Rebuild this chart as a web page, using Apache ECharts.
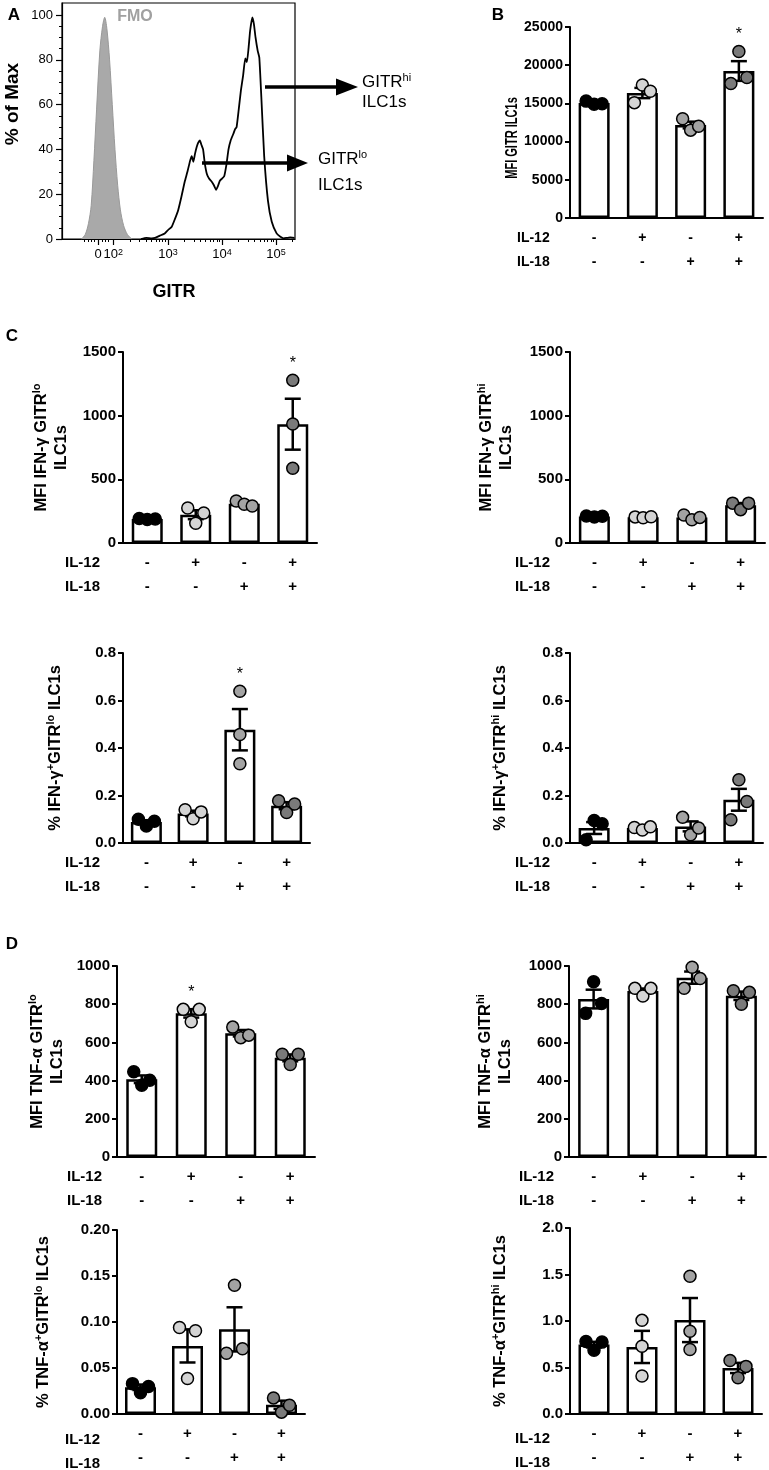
<!DOCTYPE html>
<html><head><meta charset="utf-8">
<script src="https://cdn.jsdelivr.net/npm/echarts@6/dist/echarts.min.js"></script>
<style>html,body{margin:0;padding:0;background:#fff}#c{width:769px;height:1470px}</style>
</head><body><div id="c"></div>
<script>
// ---------------- DATA ----------------
// Panel A: histogram (x = position on biexponential GITR axis, in decades)
const fmoChannel = [1.40,1.47,1.53,1.58,1.63,1.68,1.74,1.79,1.83,1.87,1.92,1.97,2.02,2.07,2.12,2.18,2.25,2.33];
const fmoPct     = [0,   2,   7,   15,  35,  58,  84,  95,  99,  94,  80,  60,  40,  24,  13,  6,   2,   0];
const gitrChannel = [2.50,2.60,2.70,2.76,2.85,2.94,3.00,3.07,3.13,3.19,3.25,3.31,3.36,3.41,3.44,3.47,3.50,3.53,3.56,3.59,3.62,3.65,3.68,3.72,3.76,3.81,3.85,3.89,3.93,3.96,4.00,4.04,4.08,4.12,4.16,4.21,4.24,4.27,4.31,4.35,4.39,4.43,4.46,4.49,4.52,4.56,4.59,4.62,4.66,4.69,4.73,4.78,4.85,4.92,5.01,5.08,5.14,5.20,5.26,5.34];
const gitrPct     = [0,0.5,0.3,0.5,1.5,2.5,4,5.5,9,13,19,25.6,30,35,37,34.5,38,41,43,44,42,40,34,29,27,25.6,24,22,24,26,27,28,33,40,44,47,49,50,58,66.5,73,80.7,79,85,93,99,96,90,84,81,62,37,17,7.7,2.5,1,0.3,0.5,0.7,0.5];
const gitrTickPos    = [1.71, 1.99, 3, 4, 5];
const gitrTickLabels = ['0', '10{s|2}', '10{s|3}', '10{s|4}', '10{s|5}'];
const pctMaxTicks    = ['0','20','40','60','80','100'];

// Bar panels
const conditions = ['none', 'IL-12', 'IL-18', 'IL-12 + IL-18'];
const il12 = ['-', '+', '-', '+'];
const il18 = ['-', '-', '+', '+'];

const mfiGitrMean = [15050, 16360, 12170, 19240];
const mfiGitrSem  = [130, 670, 440, 1290];
const mfiGitrPts  = [[15300,14900,14950],[15100,17400,16600],[13000,11500,12000],[17600,21800,18400]];
const mfiGitrSig  = ['', '', '', '*'];
const mfiGitrTicks = ['0','5000','10000','15000','20000','25000'];

const mfiIfngLoMean = [188, 222, 308, 933];
const mfiIfngLoSem  = [3, 35, 12, 200];
const mfiIfngLoPts  = [[192,185,188],[275,155,235],[330,305,290],[1278,934,587]];
const mfiIfngLoSig  = ['', '', '', '*'];
const mfiIfngTicks  = ['0','500','1000','1500'];

const mfiIfngHiMean = [209, 203, 201, 297];
const mfiIfngHiSem  = [2, 3, 11, 17];
const mfiIfngHiPts  = [[212,205,210],[205,198,206],[220,182,201],[313,262,313]];
const mfiIfngHiSig  = ['', '', '', ''];

const pctIfngLoMean = [0.088, 0.124, 0.477, 0.157];
const pctIfngLoSem  = [0.008, 0.012, 0.087, 0.015];
const pctIfngLoPts  = [[0.100,0.072,0.092],[0.140,0.102,0.131],[0.639,0.457,0.334],[0.178,0.128,0.164]];
const pctIfngLoSig  = ['', '', '*', ''];
const pctIfngTicks  = ['0.0','0.2','0.4','0.6','0.8'];

const pctIfngHiMean = [0.063, 0.063, 0.070, 0.182];
const pctIfngHiSem  = [0.025, 0.004, 0.021, 0.046];
const pctIfngHiPts  = [[0.014,0.095,0.081],[0.065,0.055,0.068],[0.108,0.035,0.063],[0.098,0.266,0.175]];
const pctIfngHiSig  = ['', '', '', ''];

const mfiTnfLoMean = [407, 752, 648, 519];
const mfiTnfLoSem  = [20, 22, 17, 18];
const mfiTnfLoPts  = [[446,376,402],[773,708,773],[680,625,638],[538,484,538]];
const mfiTnfLoSig  = ['', '*', '', ''];
const mfiTnfTicks  = ['0','200','400','600','800','1000'];

const mfiTnfHiMean = [827, 869, 939, 844];
const mfiTnfHiSem  = [49, 13, 32, 22];
const mfiTnfHiPts  = [[752,918,804],[883,843,883],[883,993,935],[870,800,862]];
const mfiTnfHiSig  = ['', '', '', ''];

const pctTnfLoMean = [0.029, 0.074, 0.092, 0.010];
const pctTnfLoSem  = [0.003, 0.018, 0.024, 0.0045];
const pctTnfLoPts  = [[0.033,0.023,0.030],[0.094,0.0386,0.0905],[0.066,0.140,0.071],[0.0175,0.002,0.0095]];
const pctTnfLoSig  = ['', '', '', ''];
const pctTnfLoTicks = ['0.00','0.05','0.10','0.15','0.20'];

const pctTnfHiMean = [0.746, 0.721, 1.010, 0.495];
const pctTnfHiSem  = [0.030, 0.173, 0.237, 0.055];
const pctTnfHiPts  = [[0.780,0.686,0.773],[1.007,0.728,0.408],[1.481,0.889,0.693],[0.575,0.390,0.512]];
const pctTnfHiSig  = ['', '', '', ''];
const pctTnfHiTicks = ['0.0','0.5','1.0','1.5','2.0'];

// ---------------- LAYOUT / STYLE ----------------
const FF = "'Liberation Sans', Arial, Helvetica, sans-serif";
const groupColors = ['#000000', '#d4d4d4', '#a3a3a3', '#7a7a7a'];
const SPREAD_THRESHOLD = 18.5, SPREAD_STEP = 8;

const big = {tickFont:15, nameFont:16.5, supFont:11, rowFont:15};
const panels = [
 {name:'MFI GITR ILC1s', nameAsGraphic:{x:513, y:138, font:'bold 16px ' + FF, scaleX:0.69},
  mean:mfiGitrMean, sem:mfiGitrSem, pts:mfiGitrPts, sig:mfiGitrSig, ticks:mfiGitrTicks,
  left:570, top:27, width:193, height:191, nameGap:50, rowX:517, tickFont:14, nameFont:14, supFont:10, rowFont:14},
 Object.assign({name:'{n|MFI IFN-γ GITR}{s|lo}\n{n|ILC1s}', mean:mfiIfngLoMean, sem:mfiIfngLoSem, pts:mfiIfngLoPts, sig:mfiIfngLoSig, ticks:mfiIfngTicks,
  left:123, top:352, width:194, height:191, nameGap:52, rowX:65}, big),
 Object.assign({name:'{n|MFI IFN-γ GITR}{s|hi}\n{n|ILC1s}', mean:mfiIfngHiMean, sem:mfiIfngHiSem, pts:mfiIfngHiPts, sig:mfiIfngHiSig, ticks:mfiIfngTicks,
  left:570, top:352, width:195, height:191, nameGap:54, rowX:515}, big),
 Object.assign({name:'{n|% IFN-γ}{s|+}{n|GITR}{s|lo}{n| ILC1s}', mean:pctIfngLoMean, sem:pctIfngLoSem, pts:pctIfngLoPts, sig:pctIfngLoSig, ticks:pctIfngTicks,
  left:123, top:653, width:187, height:190, nameGap:58, rowX:65}, big),
 Object.assign({name:'{n|% IFN-γ}{s|+}{n|GITR}{s|hi}{n| ILC1s}', mean:pctIfngHiMean, sem:pctIfngHiSem, pts:pctIfngHiPts, sig:pctIfngHiSig, ticks:pctIfngTicks,
  left:570, top:653, width:193, height:190, nameGap:60, rowX:515}, big),
 Object.assign({name:'{n|MFI TNF-α GITR}{s|lo}\n{n|ILC1s}', mean:mfiTnfLoMean, sem:mfiTnfLoSem, pts:mfiTnfLoPts, sig:mfiTnfLoSig, ticks:mfiTnfTicks,
  left:117, top:966, width:198, height:191, nameGap:50, rowX:67}, big),
 Object.assign({name:'{n|MFI TNF-α GITR}{s|hi}\n{n|ILC1s}', mean:mfiTnfHiMean, sem:mfiTnfHiSem, pts:mfiTnfHiPts, sig:mfiTnfHiSig, ticks:mfiTnfTicks,
  left:569, top:966, width:197, height:191, nameGap:54, rowX:519}, big),
 Object.assign({name:'{n|% TNF-α}{s|+}{n|GITR}{s|lo}{n| ILC1s}', mean:pctTnfLoMean, sem:pctTnfLoSem, pts:pctTnfLoPts, sig:pctTnfLoSig, ticks:pctTnfLoTicks,
  left:117, top:1230, width:188, height:190, nameGap:64, rowX:65}, big),
 Object.assign({name:'{n|% TNF-α}{s|+}{n|GITR}{s|hi}{n| ILC1s}', mean:pctTnfHiMean, sem:pctTnfHiSem, pts:pctTnfHiPts, sig:pctTnfHiSig, ticks:pctTnfHiTicks,
  left:570, top:1228, width:192, height:191, nameGap:60, rowX:515}, big)
];

const chart = echarts.init(document.getElementById('c'), null, {renderer:'canvas', width:769, height:1470});
const grids = [], xAxes = [], yAxes = [], series = [], graphics = [];

function tickFormatter(ticks){
  return v => { for (const t of ticks) if (Math.abs(parseFloat(t) - v) < 1e-6) return t; return ''; };
}
function minorDecades(){
  const out = [];
  for (let d = 2; d <= 5; d++) for (let k = 2; k <= 9; k++) { const v = d + Math.log10(k); if (v < 5.35) out.push(v); }
  return out.concat([1.45, 1.52, 1.58, 1.64, 1.78, 1.84, 1.90]);
}

// ---------- Panel A ----------
grids.push({left:62, top:3, width:233, height:236, show:true, borderColor:'#000', borderWidth:1.2, backgroundColor:'transparent'});
const labelRich = {s:{fontSize:9, fontFamily:FF, verticalAlign:'top', lineHeight:9, color:'#000'}};
xAxes.push({gridIndex:0, type:'value', min:1.04, max:5.35, position:'bottom',
  axisLine:{show:true, onZero:false, lineStyle:{color:'#000', width:1.2}},
  axisTick:{show:true, length:6, customValues:gitrTickPos, lineStyle:{color:'#000', width:1.2}},
  axisLabel:{customValues:gitrTickPos, margin:9, color:'#000', fontSize:13, fontFamily:FF, rich:labelRich,
    formatter:(v)=>{ const i = gitrTickPos.findIndex(p=>Math.abs(p-v)<1e-6); return i>=0 ? gitrTickLabels[i] : ''; }},
  splitLine:{show:false}});
xAxes.push({gridIndex:0, type:'value', min:1.04, max:5.35, position:'bottom',
  axisLine:{show:false}, axisLabel:{show:false}, splitLine:{show:false},
  axisTick:{show:true, length:3, customValues:minorDecades(), lineStyle:{color:'#000', width:1}}});
const pctVals = pctMaxTicks.map(Number);
yAxes.push({gridIndex:0, type:'value', min:0, max:105.4, position:'left',
  axisLine:{show:true, onZero:false, lineStyle:{color:'#000', width:1.2}},
  axisTick:{show:true, length:6, customValues:pctVals, lineStyle:{color:'#000', width:1.2}},
  axisLabel:{customValues:pctVals, margin:9, color:'#000', fontSize:13, fontFamily:FF},
  splitLine:{show:false}});
const minorPct = []; for (let v = 5; v < 100; v += 5) if (v % 20) minorPct.push(v);
yAxes.push({gridIndex:0, type:'value', min:0, max:105.4, position:'left',
  axisLine:{show:false}, axisLabel:{show:false}, splitLine:{show:false},
  axisTick:{show:true, length:3, customValues:minorPct, lineStyle:{color:'#000', width:1}}});
series.push({type:'line', xAxisIndex:0, yAxisIndex:0, data:fmoChannel.map((x,i)=>[x, fmoPct[i]]),
  showSymbol:false, smooth:0.3, lineStyle:{color:'#999', width:1}, areaStyle:{color:'#a9a9a9', opacity:1}, z:2, silent:true});
series.push({type:'line', xAxisIndex:0, yAxisIndex:0, data:gitrChannel.map((x,i)=>[x, gitrPct[i]]),
  showSymbol:false, smooth:0.15, lineStyle:{color:'#000', width:1.8}, z:3, silent:true});

// ---------- Bar panels ----------
panels.forEach((p) => {
  const gi = grids.length;
  const xi = xAxes.length, yi = yAxes.length;
  grids.push({left:p.left, top:p.top, width:p.width, height:p.height});
  const tv = p.ticks.map(Number);
  const yMin = tv[0], yMax = tv[tv.length-1], yInt = tv[1] - tv[0];
  xAxes.push({gridIndex:gi, type:'category', data:conditions, boundaryGap:true,
    axisLine:{show:true, lineStyle:{color:'#000', width:2}}, axisTick:{show:false},
    axisLabel:{interval:0, margin:8, lineHeight:24, color:'#000', fontSize:p.rowFont, fontWeight:'bold', fontFamily:FF,
      formatter:(v, i)=> il12[i] + '\n' + il18[i]}});
  yAxes.push({gridIndex:gi, type:'value', min:yMin, max:yMax, interval:yInt,
    axisLine:{show:true, lineStyle:{color:'#000', width:2}},
    axisTick:{show:true, length:5, lineStyle:{color:'#000', width:2}},
    axisLabel:{margin:7, color:'#000', fontSize:p.tickFont, fontWeight:'bold', fontFamily:FF, formatter:tickFormatter(p.ticks)},
    splitLine:{show:false},
    name:p.nameAsGraphic ? '' : p.name, nameLocation:'middle', nameRotate:90, nameGap:p.nameGap,
    nameTextStyle:{color:'#000', fontFamily:FF, fontSize:p.nameFont, fontWeight:'bold', lineHeight:20,
      rich:{n:{fontSize:p.nameFont, fontWeight:'bold', fontFamily:FF, lineHeight:20, color:'#000'},
            s:{fontSize:p.supFont, fontWeight:'bold', fontFamily:FF, lineHeight:p.supFont, verticalAlign:'top', color:'#000'}}}});
  if (p.nameAsGraphic) {
    const g = p.nameAsGraphic;
    graphics.push({type:'text', x:g.x, y:g.y, rotation:Math.PI/2, scaleX:g.scaleX, scaleY:1,
      style:{text:p.name, x:0, y:0, font:g.font, fill:'#000', align:'center', verticalAlign:'middle'}});
  }
  // bars
  series.push({type:'bar', xAxisIndex:xi, yAxisIndex:yi, data:p.mean, barWidth:31, z:2, silent:true,
    itemStyle:{color:'#fff', borderColor:'#000', borderWidth:2.5}});
  // error bars (mean ± SEM)
  series.push({type:'custom', xAxisIndex:xi, yAxisIndex:yi, z:3, silent:true,
    encode:{x:0, y:1},
    data:p.mean.map((m,k)=>[k, m, p.sem[k]]),
    renderItem:(params, api)=>{
      const k = api.value(0), m = api.value(1), s = api.value(2);
      const t = api.coord([k, m + s]), b = api.coord([k, m - s]);
      const cx = t[0], st = {stroke:'#000', lineWidth:2.5};
      return {type:'group', children:[
        {type:'line', shape:{x1:cx, y1:t[1], x2:cx, y2:b[1]}, style:st},
        {type:'line', shape:{x1:cx-8, y1:t[1], x2:cx+8, y2:t[1]}, style:st},
        {type:'line', shape:{x1:cx-8, y1:b[1], x2:cx+8, y2:b[1]}, style:st}
      ]};
    }});
  // individual points
  const pxPerUnit = p.height / (yMax - yMin);
  const pts = [];
  p.pts.forEach((arr, k) => {
    let minD = Infinity;
    for (let a = 0; a < arr.length; a++) for (let b = a+1; b < arr.length; b++) minD = Math.min(minD, Math.abs(arr[a]-arr[b]) * pxPerUnit);
    const spread = minD < SPREAD_THRESHOLD;
    arr.forEach((v, j) => {
      pts.push({value:[k, v], symbolOffset:[spread ? (j - (arr.length-1)/2) * SPREAD_STEP : 0, 0],
        itemStyle:{color:groupColors[k]}});
    });
  });
  series.push({type:'scatter', xAxisIndex:xi, yAxisIndex:yi, z:4, silent:true, data:pts, symbolSize:12,
    itemStyle:{borderColor:'#000', borderWidth:1.5, opacity:1}});
  // significance stars
  series.push({type:'custom', xAxisIndex:xi, yAxisIndex:yi, z:5, silent:true, encode:{x:0, y:1},
    data:p.mean.map((m,k)=>[k, Math.max(m + p.sem[k], Math.max(...p.pts[k]))]),
    renderItem:(params, api)=>{
      const s = p.sig[params.dataIndex]; if (!s) return null;
      const c = api.coord([api.value(0), api.value(1)]);
      return {type:'text', style:{text:s, x:c[0], y:c[1]-17, fill:'#000', font:'16px ' + FF, align:'center', verticalAlign:'middle'}};
    }});
  // IL-12 / IL-18 row labels
  const bottom = p.top + p.height;
  const rf = 'bold ' + p.rowFont + 'px ' + FF;
  graphics.push({type:'text', style:{text:'IL-12', x:p.rowX, y:bottom + 20, font:rf, fill:'#000', align:'left', verticalAlign:'middle'}});
  graphics.push({type:'text', style:{text:'IL-18', x:p.rowX, y:bottom + 44, font:rf, fill:'#000', align:'left', verticalAlign:'middle'}});
});

// ---------- Annotations ----------
const letterFont = 'bold 17px ' + FF;
[['A',14,15],['B',498,15],['C',12,336],['D',12,944]].forEach(([t,x,y]) =>
  graphics.push({type:'text', style:{text:t, x:x, y:y, font:letterFont, fill:'#000', align:'center', verticalAlign:'middle'}}));
graphics.push({type:'text', style:{text:'FMO', x:135, y:17, font:'bold 16px ' + FF, fill:'#a0a0a0', align:'center', verticalAlign:'middle'}});
graphics.push({type:'text', x:13, y:104, rotation:Math.PI/2, style:{text:'% of Max', x:0, y:0, font:'bold 19px ' + FF, fill:'#000', align:'center', verticalAlign:'middle'}});
graphics.push({type:'text', style:{text:'GITR', x:174, y:292, font:'bold 18px ' + FF, fill:'#000', align:'center', verticalAlign:'middle'}});
// arrows
graphics.push({type:'line', shape:{x1:265, y1:87, x2:338, y2:87}, style:{stroke:'#000', lineWidth:3.5}});
graphics.push({type:'polygon', shape:{points:[[336,78.5],[358,87],[336,95.5]]}, style:{fill:'#000'}});
graphics.push({type:'line', shape:{x1:202, y1:163, x2:289, y2:163}, style:{stroke:'#000', lineWidth:3.5}});
graphics.push({type:'polygon', shape:{points:[[287,154.5],[308,163],[287,171.5]]}, style:{fill:'#000'}});
const arrowRich = {n:{fontSize:17, fontFamily:FF, color:'#000', lineHeight:20}, s:{fontSize:11, fontFamily:FF, color:'#000', verticalAlign:'top', lineHeight:11}};
graphics.push({type:'text', style:{text:'{n|GITR}{s|hi}', rich:arrowRich, x:362, y:82, align:'left', verticalAlign:'middle'}});
graphics.push({type:'text', style:{text:'ILC1s', x:362, y:102, font:'17px ' + FF, fill:'#000', align:'left', verticalAlign:'middle'}});
graphics.push({type:'text', style:{text:'{n|GITR}{s|lo}', rich:arrowRich, x:318, y:159, align:'left', verticalAlign:'middle'}});
graphics.push({type:'text', style:{text:'ILC1s', x:318, y:185, font:'17px ' + FF, fill:'#000', align:'left', verticalAlign:'middle'}});

chart.setOption({
  animation:false,
  backgroundColor:'#fff',
  grid:grids, xAxis:xAxes, yAxis:yAxes, series:series, graphic:graphics
});
</script></body></html>
